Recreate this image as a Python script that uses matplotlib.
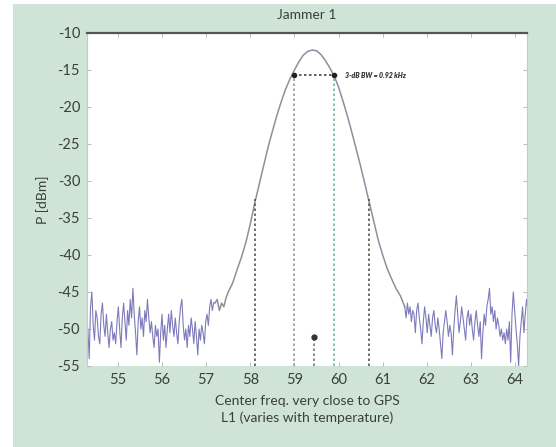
import numpy as np
import matplotlib
matplotlib.use('Agg')
import matplotlib.pyplot as plt
from matplotlib.patches import Rectangle

''' DATA '''
# noise floor left of the jammer (54.32 .. 57.17 on the axis)
left_f = (54.32, 57.17)
left_p = [-50.0, -54.0, -47.0, -45.0, -49.5, -51.5, -47.5, -48.5, -51.0, -52.0,
          -48.0, -46.5, -49.5, -51.0, -48.0, -50.5, -52.5, -50.0, -49.0, -51.5,
          -50.5, -52.0, -49.0, -47.0, -50.0, -52.5, -48.5, -46.5, -49.0, -51.5,
          -47.5, -49.5, -46.0, -48.5, -44.5, -48.0, -50.5, -53.5, -49.0, -47.0,
          -50.0, -48.5, -51.0, -47.5, -49.0, -46.0, -48.5, -50.5, -49.0, -51.0,
          -52.5, -49.5, -51.0, -50.0, -54.5, -50.5, -48.0, -51.5, -49.5, -52.5,
          -50.0, -48.0, -50.5, -47.5, -49.5, -51.0, -48.5, -50.5, -52.0, -49.0,
          -47.0, -46.0, -49.5, -51.5, -50.0, -52.5, -49.5, -51.0, -48.5, -50.0,
          -52.0, -49.0, -51.0, -53.5, -50.0, -51.5, -49.5, -50.5, -52.0, -49.0,
          -48.0, -49.5, -47.0, -46.0, -47.5, -46.5]

# main lobe of the jammer
peak_f = [57.17, 57.20, 57.25, 57.30, 57.35, 57.40, 57.45, 57.50, 57.60, 57.70, 57.80,
          57.90, 58.00, 58.10, 58.20, 58.30, 58.40, 58.50, 58.60, 58.70, 58.80,
          58.90, 59.00, 59.10, 59.20, 59.30, 59.40, 59.50, 59.60, 59.70, 59.80,
          59.90, 60.00, 60.10, 60.20, 60.30, 60.40, 60.50, 60.60, 60.70, 60.80,
          60.90, 61.00, 61.10, 61.20, 61.30, 61.40, 61.50]
peak_p = [-46.5, -46.5, -46.0, -47.5, -46.5, -47.0, -45.8, -45.0, -43.8, -42.0, -40.3,
          -38.3, -35.8, -33.0, -30.5, -28.0, -25.5, -23.3, -21.2, -19.3, -17.6,
          -16.2, -15.0, -13.9, -13.0, -12.5, -12.3, -12.4, -12.9, -13.7, -14.7,
          -15.8, -17.3, -19.2, -21.2, -23.4, -25.7, -28.0, -30.5, -33.0, -35.5,
          -38.0, -40.0, -41.8, -43.2, -44.5, -45.5, -47.0]

# noise floor right of the jammer
right_f = (61.50, 64.29)
right_p = [-47.0, -48.5, -46.5, -48.0, -47.0, -49.0, -47.5, -48.0, -50.5, -47.5,
           -46.5, -48.5, -50.0, -52.0, -49.0, -47.0, -48.5, -50.5, -48.0, -49.5,
           -51.0, -48.5, -47.5, -49.5, -50.5, -48.5, -50.0, -52.0, -54.0, -50.5,
           -49.0, -47.5, -49.0, -51.0, -49.5, -50.5, -53.5, -50.0, -47.5, -45.5,
           -48.0, -50.5, -49.0, -47.0, -48.5, -50.0, -51.5, -48.5, -47.5, -49.5,
           -48.0, -50.0, -51.5, -49.0, -47.5, -49.5, -51.0, -49.0, -54.0, -50.5,
           -48.0, -49.5, -47.0, -46.0, -44.5, -48.0, -47.0, -49.0, -47.5, -50.0,
           -48.5, -49.5, -51.0, -50.0, -51.5, -50.5, -52.0, -50.0, -51.5, -49.0,
           -54.5, -48.0, -45.0, -47.5, -50.0, -52.0, -55.0, -51.0, -49.0, -47.0,
           -50.5, -48.0, -46.0, -47.5]

# markers
outer_f = [58.1, 60.7]      # dotted lines up to the -32 dBm points
outer_top = -32.5
bw_f = [59.0, 59.9]         # 3 dB points
bw_level = -15.7
center_f = 59.44
center_p = -51.1
bw_text = '3-dB BW = 0.92 kHz'

xticks = [55, 56, 57, 58, 59, 60, 61, 62, 63, 64]
yticks = [-10, -15, -20, -25, -30, -35, -40, -45, -50, -55]

''' PLOTTING '''
plt.rcParams['font.family'] = ['Lato', 'DejaVu Sans']
plt.rcParams['axes.unicode_minus'] = False
txt = '#3a3f3c'
green = '#cfe4d7'

fig = plt.figure(figsize=(5.56, 4.47), dpi=100)
fig.patch.set_facecolor('white')
fig.patches.append(Rectangle((13/556, 0), 1, 443/447, transform=fig.transFigure,
                             facecolor=green, edgecolor='none', zorder=-10))
ax = fig.add_axes([87/556, 1-366/447, 440/556, 333/447])
ax.set_facecolor('white')

# noise and main lobe
ax.plot(np.linspace(left_f[0], left_f[1], len(left_p)), left_p, color='#7f7abb', lw=0.8)
ax.plot(peak_f, peak_p, color='#8f8e9e', lw=1.1)
ax.plot(np.linspace(right_f[0], right_f[1], len(right_p)), right_p, color='#7f7abb', lw=0.8)

# dotted guide lines
for f in outer_f:
    ax.plot([f, f], [-55, outer_top], ls=(0, (1.5, 1.5)), color='#555555', lw=1.2)
ax.plot([bw_f[0], bw_f[0]], [-55, bw_level], ls=(0, (1.5, 1.5)), color='#9a9a9a', lw=1.2)
ax.plot([bw_f[1], bw_f[1]], [-55, bw_level], ls=(0, (1.5, 1.5)), color='#6fb7b0', lw=1.2)
ax.plot([center_f, center_f], [-55, center_p], ls=(0, (1.5, 1.5)), color='#777777', lw=1.2)
ax.plot(center_f, center_p, 'o', color='#333333', ms=3.5)

# 3 dB bandwidth marker
ax.plot(bw_f, [bw_level, bw_level], ls=(0, (1.5, 1.5)), color='#444444', lw=1.2)
ax.plot(bw_f, [bw_level, bw_level], 'o', color='#222222', ms=3)
ax.text(60.15, bw_level, bw_text, fontsize=5, fontweight='heavy', style='italic',
        color='#333333', va='center', ha='left')

# format axes
ax.set_xlim(54.30, 64.27)
ax.set_ylim(-55, -10)
ax.set_xticks(xticks)
ax.set_yticks(yticks)
ax.tick_params(direction='in', length=3, width=0.6, color='#b0b0b0', labelsize=10.5,
               labelcolor=txt, top=True, right=True, pad=5)
for s in ['left', 'right']:
    ax.spines[s].set_color('#c8c8c8')
    ax.spines[s].set_linewidth(0.8)
ax.spines['bottom'].set_visible(False)
ax.spines['top'].set_color('#555555')
ax.spines['top'].set_linewidth(1.6)

ax.set_title('Jammer 1', fontsize=10, color=txt, pad=10)
ax.set_ylabel('P [dBm]', fontsize=10, color=txt, labelpad=6)
ax.set_xlabel('Center freq. very close to GPS\nL1 (varies with temperature)',
              fontsize=10, color=txt, labelpad=6, linespacing=1.4)

plt.savefig('out.png', dpi=100, facecolor=fig.get_facecolor())
